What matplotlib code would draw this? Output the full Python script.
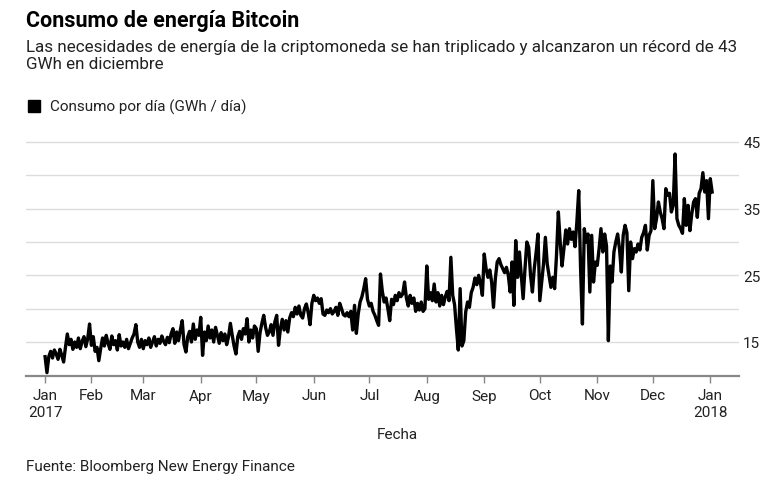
import matplotlib.pyplot as plt
import matplotlib.patches as mpatches
import pandas as pd

# Daily consumption (GWh / day)
jan_2017 = [12.8, 10.4, 12.8, 13.6, 12.6, 13.8, 13.2, 12.4, 13.9, 13.0, 12.0, 14.2, 16.2,
            14.6, 15.4, 13.9, 15.0, 14.2, 15.6, 14.0, 15.1, 15.8, 14.3, 15.5, 17.7]
feb_2017 = [14.5, 15.8, 13.6, 14.2, 12.2, 14.0, 15.6, 14.4, 16.0, 14.8, 13.9, 15.9, 14.6, 15.2,
            13.8, 16.1, 14.4, 15.0, 14.2, 15.4, 14.0, 14.8, 15.6, 16.2, 17.6, 15.0, 14.2, 15.4]
mar_2017 = [14.0, 15.2, 14.6, 15.6, 14.2, 15.0, 15.8, 14.4, 15.4, 14.8, 15.9, 15.1, 14.6, 15.7,
            14.9, 16.2, 17.0, 14.8, 16.5, 15.2, 16.8, 18.2, 14.6, 13.5, 15.8, 16.6, 15.0, 17.7,
            15.4, 16.8, 16.0]
apr_2017 = [18.7, 13.0, 16.5, 15.2, 17.4, 15.6, 16.8, 15.0, 17.2, 16.0, 14.8, 16.4, 15.2, 16.2,
            14.6, 15.8, 17.8, 16.0, 14.4, 13.2, 15.8, 16.6, 15.4, 17.0, 16.2, 18.5, 15.0, 16.8,
            15.6, 17.4]
may_2017 = [17.0, 13.6, 16.4, 17.8, 19.0, 17.2, 16.0, 16.5, 17.6, 16.0, 18.0, 19.0, 14.5, 17.0,
            18.4, 16.8, 18.2, 16.5, 18.6, 19.4, 18.8, 20.2, 19.2, 20.4, 19.0, 18.6, 20.0, 20.7,
            19.4, 17.6, 20.8]
jun_2017 = [22.0, 21.2, 21.6, 20.8, 21.5, 19.2, 19.0, 19.8, 19.4, 20.0, 19.2, 19.6, 20.2, 19.0,
            20.8, 20.0, 19.1, 18.9, 19.4, 18.8, 19.6, 16.8, 20.5, 16.3, 19.2, 21.0, 21.8, 23.0,
            24.5, 21.4]
jul_2017 = [20.4, 20.8, 19.6, 19.0, 18.2, 17.5, 25.2, 22.6, 21.0, 21.6, 20.0, 18.2, 21.4, 20.6,
            22.0, 21.2, 22.4, 21.8, 22.2, 24.0, 21.6, 20.4, 22.0, 20.8, 21.6, 19.6, 20.8, 19.8,
            21.0, 19.6, 20.0]
aug_2017 = [26.4, 21.4, 22.4, 21.2, 23.7, 21.0, 22.4, 20.4, 22.0, 20.6, 21.8, 22.6, 21.2, 27.7,
            22.0, 20.6, 17.0, 13.8, 23.0, 14.4, 15.2, 19.5, 21.0, 20.2, 22.4, 23.2, 24.6, 23.6,
            25.0, 23.8, 22.0]
sep_2017 = [28.2, 26.0, 24.7, 25.8, 24.0, 20.2, 24.5, 27.0, 27.5, 26.6, 26.0, 25.4, 26.2, 25.0,
            22.5, 27.0, 20.5, 30.2, 24.7, 28.5, 25.0, 21.5, 26.0, 30.0, 29.2, 25.0, 22.5, 26.0,
            28.4, 31.2]
oct_2017 = [21.2, 24.0, 26.7, 30.7, 26.7, 25.0, 23.2, 24.7, 23.0, 28.0, 34.5, 30.0, 26.4, 29.0,
            31.8, 29.7, 32.0, 30.4, 31.5, 29.3, 33.0, 37.7, 26.0, 17.7, 32.0, 30.0, 31.2, 22.5,
            31.0, 24.0, 27.0]
nov_2017 = [26.5, 29.0, 32.0, 28.5, 31.2, 29.4, 15.2, 26.4, 24.0, 28.5, 30.0, 31.2, 29.0, 25.5,
            31.0, 32.5, 31.4, 22.7, 30.0, 27.5, 29.0, 28.5, 29.7, 28.8, 30.7, 31.4, 32.5, 28.8,
            31.0, 31.7]
dec_2017 = [39.2, 32.0, 33.5, 36.0, 34.5, 33.5, 32.0, 38.0, 37.0, 37.3, 34.5, 35.5, 43.2, 33.5,
            32.5, 32.0, 31.3, 36.5, 32.5, 35.5, 31.7, 34.2, 36.0, 36.5, 33.7, 37.3, 38.0, 40.4,
            37.5, 39.2, 33.5]
jan_2018 = [39.5, 37.5]

consumo = (jan_2017 + feb_2017 + mar_2017 + apr_2017 + may_2017 + jun_2017 + jul_2017
           + aug_2017 + sep_2017 + oct_2017 + nov_2017 + dec_2017 + jan_2018)
start = pd.Timestamp('2017-01-07')
dates = pd.date_range(start, periods=len(consumo), freq='D')

month_labels = ['Jan\n2017', 'Feb', 'Mar', 'Apr', 'May', 'Jun', 'Jul', 'Aug', 'Sep',
                'Oct', 'Nov', 'Dec', 'Jan\n2018']
month_ticks = [start] + list(pd.date_range('2017-02-01', '2018-01-01', freq='MS'))

plt.rcParams['font.family'] = ['Roboto', 'DejaVu Sans']

W, H = 775, 489
fig = plt.figure(figsize=(W / 100, H / 100), dpi=100)
ax = fig.add_axes([26 / W, 1 - 377 / H, (739 - 26) / W, (377 - 141) / H])

ax.plot(dates, consumo, color='black', lw=2.4, solid_joinstyle='round')

ax.set_xlim(start - pd.Timedelta(days=10.3), pd.Timestamp('2018-01-01') + pd.Timedelta(days=15.5))
ax.set_ylim(9.9, 45.3)

ax.set_yticks([15, 25, 35, 45])
ax.set_yticks([20, 30, 40], minor=True)
ax.yaxis.tick_right()
ax.tick_params(axis='y', which='both', length=0, pad=3, labelsize=11, labelcolor='#222222')
ax.grid(axis='y', which='both', color='#dcdcdc', lw=1)
ax.set_axisbelow(True)

ax.set_xticks(month_ticks)
ax.set_xticklabels(month_labels)
ax.tick_params(axis='x', length=5, width=1, color='#888888', labelsize=11, pad=4,
               labelcolor='#222222')

for s in ['top', 'left', 'right']:
    ax.spines[s].set_visible(False)
ax.spines['bottom'].set_color('#888888')
ax.spines['bottom'].set_linewidth(1.6)

# texts
fig.text(26 / W, 1 - 21 / H, 'Consumo de energía Bitcoin', fontsize=15.5, fontweight='bold',
         va='center', ha='left', color='black')
fig.text(26 / W, 1 - 40 / H,
         'Las necesidades de energía de la criptomoneda se han triplicado y alcanzaron un récord de 43\nGWh en diciembre',
         fontsize=12.25, va='top', ha='left', color='#222222', linespacing=1.15)
fig.add_artist(mpatches.Rectangle((28 / W, 1 - 113 / H), 12 / W, 12 / H, color='black',
                                  transform=fig.transFigure))
fig.text(50 / W, 1 - 107 / H, 'Consumo por día (GWh / día)', fontsize=11, va='center',
         ha='left', color='#222222')
fig.text(397 / W, 1 - 435 / H, 'Fecha', fontsize=11, va='center', ha='center', color='#222222')
fig.text(26 / W, 1 - 467 / H, 'Fuente: Bloomberg New Energy Finance', fontsize=11,
         va='center', ha='left', color='#222222')

fig.savefig('out.png', dpi=100)
